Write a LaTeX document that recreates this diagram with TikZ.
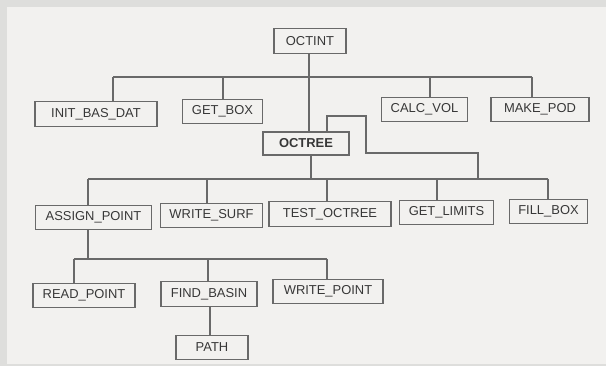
\documentclass[tikz,border=0pt]{standalone}
\usepackage{fontspec}
\setmainfont{Liberation Sans}
\usepackage{tikz}
\usetikzlibrary{calc}
\definecolor{cpage}{RGB}{242,241,239}
\definecolor{cedge}{RGB}{222,222,220}
\definecolor{cline}{RGB}{105,105,105}
\definecolor{ctext}{RGB}{55,55,55}
\tikzset{
  proc/.style={
    rectangle, draw=cline, line width=0.8pt, fill=cpage,
    minimum height=0.62cm, inner sep=0pt,
    font=\fontsize{9.2}{10}\selectfont\color{ctext}
  },
  procB/.style={
    proc, line width=1.3pt,
    font=\fontsize{9.2}{10}\selectfont\bfseries\color{ctext}
  },
  wire/.style={draw=cline, line width=0.75pt}
}

\begin{document}
\begin{tikzpicture}[x=0.025cm, y=-0.025cm]

    %% ---- page ----------------------------------------------------
    \fill[cedge] (0,0) rectangle (606,366);
    \fill[cpage] (7,7) rectangle (606,364);
    \useasboundingbox (0,0) rectangle (606,366);

    %% ---- level 0 and 1 -------------------------------------------
    \node[proc, minimum width=1.8cm]  (octint)   at (310,41)    {OCTINT};

    \node[proc, minimum width=3.05cm] (initbas)  at (96,114)    {INIT\_BAS\_DAT};
    \node[proc, minimum width=2.02cm] (getbox)   at (222.5,111.5) {GET\_BOX};
    \node[proc, minimum width=2.17cm] (calcvol)  at (424.5,109.5) {CALC\_VOL};
    \node[proc, minimum width=2.45cm] (makepod)  at (540,109.5) {MAKE\_POD};
    \node[procB, minimum width=2.15cm, minimum height=0.58cm]
      (octree) at (306,143.5) {OCTREE};

    \coordinate (t1) at (113,77);
    \coordinate (t2) at (223,77);
    \coordinate (t3) at (430,77);
    \coordinate (t4) at (532,77);

    \draw[wire] (t1) -- (t4);
    \foreach \c/\n in {t1/initbas, t2/getbox, t3/calcvol, t4/makepod}
      \draw[wire] (\c) -- (\c |- \n.north);
    \draw[wire] ($(octint.south)+(-1,0)$) -- ($(octint.south |- octree.north)+(-1,0)$);

    %% ---- level 2 -------------------------------------------------
    \node[proc, minimum width=2.92cm] (assign)   at (93.5,217.5)  {ASSIGN\_POINT};
    \node[proc, minimum width=2.57cm] (writesurf) at (211.5,215.5) {WRITE\_SURF};
    \node[proc, minimum width=3.05cm] (testoct)  at (330,214)     {TEST\_OCTREE};
    \node[proc, minimum width=2.37cm] (getlim)   at (446.5,212.5) {GET\_LIMITS};
    \node[proc, minimum width=1.97cm] (fillbox)  at (548.5,211.5) {FILL\_BOX};

    \coordinate (m1) at (88,179);
    \coordinate (m2) at (207,179);
    \coordinate (m3) at (327,179);
    \coordinate (m4) at (437,179);
    \coordinate (m5) at (548,179);

    \draw[wire] (m1) -- (m5);
    \foreach \c/\n in {m1/assign, m2/writesurf, m3/testoct, m4/getlim, m5/fillbox}
      \draw[wire] (\c) -- (\c |- \n.north);
    \draw[wire] (octree.south -| 311,0) -- (311,179);

    % recursive call of OCTREE
    \coordinate (r1) at (366,116);
    \coordinate (r2) at (478,179);
    \draw[wire] (octree.north -| 327,0) |- (r1) |- ($(r2)+(0,-26)$) -- (r2);

    %% ---- level 3 -------------------------------------------------
    \node[proc, minimum width=2.55cm] (readpt)  at (84,295.5)  {READ\_POINT};
    \node[proc, minimum width=2.4cm]  (findbas) at (209,294)   {FIND\_BASIN};
    \node[proc, minimum width=2.75cm] (writept) at (328,291.5) {WRITE\_POINT};

    \coordinate (b1) at (74,259);
    \coordinate (b2) at (208,259);
    \coordinate (b3) at (327,259);

    \draw[wire] (b1) -- (b3);
    \draw[wire] (assign.south -| m1) -- (m1 |- b1);
    \foreach \c/\n in {b1/readpt, b2/findbas, b3/writept}
      \draw[wire] (\c) -- (\c |- \n.north);

    %% ---- level 4 -------------------------------------------------
    \node[proc, minimum width=1.8cm] (path) at (212,347.5) {PATH};
    \draw[wire] (findbas.south -| 210,0) -- (210,0 |- path.north);

\end{tikzpicture}
\end{document}
